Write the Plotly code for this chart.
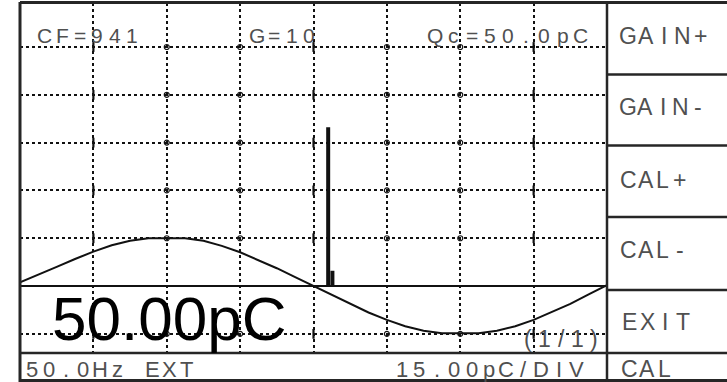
import plotly.graph_objects as go

W, H = 727, 382

# ---- data read from the display ----
phase_deg = [0, 11.25, 22.5, 33.75, 45, 56.25, 67.5, 78.75, 90, 101.25, 112.5, 123.75,
             135, 146.25, 157.5, 168.75, 180, 191.25, 202.5, 213.75, 225, 236.25,
             247.5, 258.75, 270, 281.25, 292.5, 303.75, 315, 326.25, 337.5, 348.75, 360]
ref_wave_pc = [1.2, 3.5, 6.0, 8.5, 10.8, 12.8, 14.2, 15.0, 15.0, 15.0, 14.2, 12.6,
               10.6, 8.2, 5.6, 2.8, 0.0, -2.9, -5.7, -8.3, -10.6, -12.6,
               -14.0, -14.8, -14.8, -14.8, -14.0, -12.6, -10.6, -8.2, -5.6, -2.6, 0.3]
pulse_phase = [189.0, 191.6]
pulse_pc = [49.8, 4.8]

x_ticks = [0, 45, 90, 135, 180, 225, 270, 315, 360]
y_ticks = [-15, 0, 15, 30, 45, 60, 75]
circle_cols = [90, 135, 225, 270]
tick_cols = [45, 180, 315]

header_labels = ["CF=941", "G=10", "Qc=50.0pC"]
button_labels = ["GAIN+", "GAIN-", "CAL+", "CAL-", "EXIT", "CAL"]
status_labels = ["50.0Hz EXT", "15.00pC/DIV"]
page_label = "(1/1)"
big_value = "50.00pC"

GRAY = "#505050"
INK = "#111111"


def px(x):
    return x / W


def py(y):
    return 1 - y / H


fig = go.Figure()

# reference sine
fig.add_trace(go.Scatter(x=phase_deg, y=ref_wave_pc, mode="lines",
                         line=dict(color=INK, width=2), hoverinfo="skip"))

# pulses
px_list, py_list = [], []
for p, v in zip(pulse_phase, pulse_pc):
    px_list += [p, p, None]
    py_list += [0, v, None]
fig.add_trace(go.Scatter(x=px_list, y=py_list, mode="lines",
                         line=dict(color=INK, width=4), hoverinfo="skip"))

# grid intersection marks
gy = [v for v in y_ticks if v != 0]
cx, cy, tx, ty = [], [], [], []
for yv in gy:
    for xv in circle_cols:
        cx.append(xv); cy.append(yv)
    for xv in tick_cols:
        tx.append(xv); ty.append(yv)
fig.add_trace(go.Scatter(x=cx, y=cy, mode="markers",
                         marker=dict(symbol="circle-open", size=5, color=INK,
                                     line=dict(width=1.2, color=INK)),
                         hoverinfo="skip"))
fig.add_trace(go.Scatter(x=tx, y=ty, mode="markers",
                         marker=dict(symbol="line-ns-open", size=7, color=INK,
                                     line=dict(width=2.2, color=INK)),
                         hoverinfo="skip"))

X0, X1, Y0, Y1 = 20, 607, 3, 353

fig.update_layout(
    width=W, height=H, margin=dict(l=0, r=0, t=0, b=0),
    paper_bgcolor="white", plot_bgcolor="white", showlegend=False,
    xaxis=dict(domain=[px(X0), px(X1)], range=[0, 360], tickvals=x_ticks,
               showgrid=True, griddash="dot", gridcolor=INK, gridwidth=2,
               showticklabels=False, ticks="", zeroline=False, showline=False,
               fixedrange=True),
    yaxis=dict(domain=[py(Y1), py(Y0)], range=[-21.0, 88.8], tickvals=y_ticks,
               showgrid=True, griddash="dot", gridcolor=INK, gridwidth=2,
               showticklabels=False, ticks="", zeroline=True,
               zerolinecolor=INK, zerolinewidth=2, showline=False,
               fixedrange=True),
)

# frame / button lines
FR = "#262626"


def hline(y, xa, xb, w=2.5):
    fig.add_shape(type="line", xref="paper", yref="paper", x0=px(xa), x1=px(xb),
                  y0=py(y), y1=py(y), line=dict(color=FR, width=w))


def vline(x, ya, yb, w=2.5):
    fig.add_shape(type="line", xref="paper", yref="paper", x0=px(x), x1=px(x),
                  y0=py(ya), y1=py(yb), line=dict(color=FR, width=w))


hline(2.5, X0, W, 3)
hline(380.5, X0, W, 3)
hline(Y1, X0, W, 2.5)
for yb in [74.5, 145.5, 217, 290]:
    hline(yb, X1, W, 2.5)
vline(X0, 2, H, 3)
vline(X1, 2, H, 2.5)


def label(text, x0, x1, yc, size, color=GRAY, family="Liberation Sans"):
    n = len(text)
    pitch = (x1 - x0) / n
    for i, ch in enumerate(text):
        if ch == " ":
            continue
        fig.add_annotation(x=px(x0 + pitch * (i + 0.5)), y=py(yc), text=ch,
                           xref="paper", yref="paper", showarrow=False,
                           xanchor="center", yanchor="middle",
                           font=dict(family=family, size=size, color=color))


# header
label(header_labels[0], 36, 141, 36, 21)
label(header_labels[1], 248, 318, 36, 21)
label(header_labels[2], 426, 590, 36, 21)

# buttons
btn_pos = [(619, 709, 36), (619, 707, 107), (620, 688, 180), (620, 688, 250),
           (621, 692, 322), (621, 673, 369)]
for t, (a, b, c) in zip(button_labels, btn_pos):
    label(t, a, b, c, 23)

# status bar
label(status_labels[0], 23, 195, 369, 22)
label(status_labels[1], 393, 585, 369, 22)
label(page_label, 520, 602, 339, 23)

# big value (single proportional text)
fig.add_annotation(x=px(169), y=py(318), text=big_value, xref="paper", yref="paper",
                   showarrow=False, xanchor="center", yanchor="middle",
                   font=dict(family="Liberation Sans", size=62, color="#000000"))

fig.write_html("out.html")
